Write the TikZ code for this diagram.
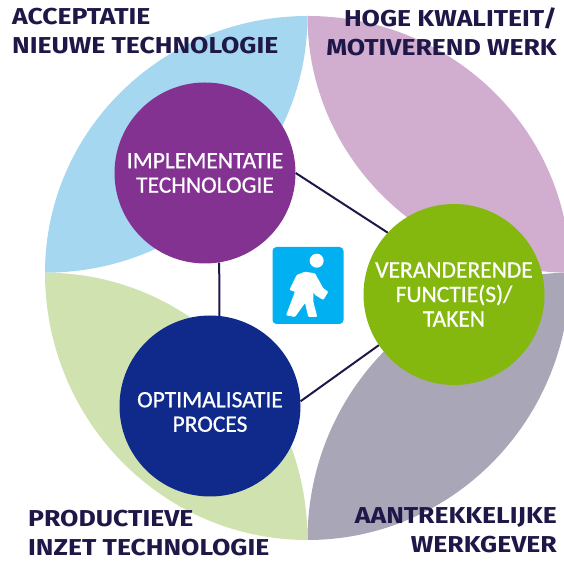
\documentclass[tikz,border=0pt]{standalone}
\usepackage{fontspec}
\setmainfont{Carlito}
\newfontfamily\bolfont[FakeBold=0.7]{Carlito}
\newfontfamily\kopfont[FakeStretch=1.155]{Fira Sans}
\definecolor{petalblue}{HTML}{A5D8F0}
\definecolor{petalpink}{HTML}{D1AED0}
\definecolor{petalgreen}{HTML}{CFE2B0}
\definecolor{petalgrey}{HTML}{A9A6B8}
\definecolor{purplebol}{HTML}{833291}
\definecolor{limebol}{HTML}{84B80E}
\definecolor{navybol}{HTML}{102A8C}
\definecolor{inkdark}{HTML}{1F1747}
\definecolor{iconblue}{HTML}{00B0F0}
\tikzset{
    %Define style for circles
    bol/.style={
           circle,
           inner sep=0pt,
           minimum size=181pt,
           text=white,
           align=center,
           font=\bolfont\fontsize{23.5}{24.5}\selectfont},
    %Define style for outer labels
    kop/.style={
           text=inkdark,
           inner sep=0pt,
           font=\kopfont\fontsize{23}{29}\selectfont\bfseries},
    %Define arrow style
    lijn/.style={
           draw=inkdark,
           line width=2pt}
}
\begin{document}
\begin{tikzpicture}[x=1pt,y=1pt]
\useasboundingbox (0,0) rectangle (564,561);

% petals
\fill[petalblue] (307.5,545) arc[start angle=90,end angle=180,x radius=262.5pt,y radius=256.7pt]
	arc[start angle=270,end angle=360,x radius=262.5pt,y radius=256.7pt] -- cycle;
\fill[petalpink] (307.5,545) arc[start angle=90,end angle=0,x radius=262.5pt,y radius=256.7pt]
	arc[start angle=270,end angle=180,x radius=262.5pt,y radius=256.7pt] -- cycle;
\fill[petalgreen] (45,288.3) arc[start angle=180,end angle=270,x radius=262.5pt,y radius=267.3pt]
	arc[start angle=0,end angle=90,x radius=262.5pt,y radius=267.3pt] -- cycle;
\fill[petalgrey] (570,288.3) arc[start angle=0,end angle=-90,x radius=262.5pt,y radius=267.3pt]
	arc[start angle=180,end angle=90,x radius=262.5pt,y radius=267.3pt] -- cycle;

\node[bol,fill=purplebol](impl) at (205,388){IMPLEMENTATIE\\TECHNOLOGIE};
\node[bol,fill=limebol](func) at (454,266.5){VERANDERENDE\\FUNCTIE(S)/\\TAKEN};
\node[bol,fill=navybol](opti) at (210,155){};
\node[bol,minimum size=0pt](optitxt) at (210,149){OPTIMALISATIE\\PROCES};

\path[lijn]
	(impl.east) edge (func.137)
	(impl.-81) edge (opti.84)
	(opti.3) edge (func.214);

% walking man
\node[fill=iconblue,rounded corners=4pt,minimum width=71pt,minimum height=77pt,inner sep=0pt](icon) at (308,275.5){};
\fill[white] (316.7,300.3) circle (7pt);
\fill[white,rounded corners=1pt] (296.7,286) -- (305,289.3) -- (315,287.7) -- (323.3,272.7) -- (328.3,269.3)
	-- (323.3,261) -- (315,266) -- (313.3,269.3) -- (313.3,259.3) -- (317.3,244) -- (308.3,244)
	-- (305,258) -- (295,244) -- (286,245.7) -- (295,269.3) -- (289.3,271) -- cycle;

\node[kop,anchor=west,align=left](acc) at (12,530){ACCEPTATIE\\NIEUWE TECHNOLOGIE};
\node[kop,anchor=east,align=right](hoge) at (557,529){HOGE KWALITEIT/\\MOTIVEREND WERK};
\node[kop,anchor=west,align=left](prod) at (28,27.5){PRODUCTIEVE\\INZET TECHNOLOGIE};
\node[kop,anchor=east,align=right](aant) at (557,30.5){AANTREKKELIJKE\\WERKGEVER};
\end{tikzpicture}
\end{document}
